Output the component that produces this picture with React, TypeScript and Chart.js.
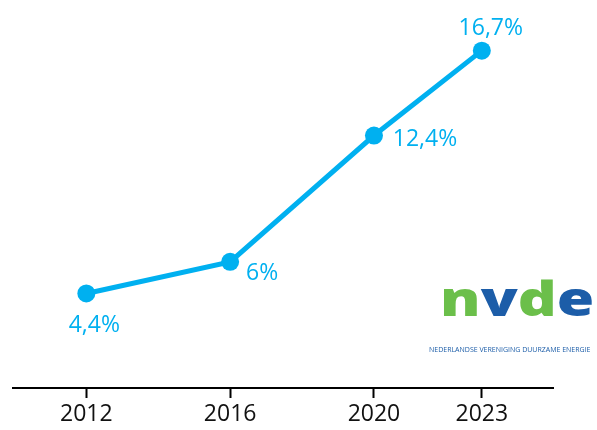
import React, { useEffect, useRef } from "react";
import { Chart, registerables } from "chart.js";

Chart.register(...registerables);

const years = [2012, 2016, 2020, 2023];
const shares = [4.4, 6, 12.4, 16.7];
const tickYears = [2012, 2016, 2020, 2023];

const BLUE = "#00B0F0";
const LABEL_FONT = "'Open Sans', 'Noto Sans', sans-serif";
// label offsets from each point (styling)
const labelOffsets = [
  [8, 32],
  [32, 12],
  [51, 4],
  [9, -22],
];

const fmt = (v: number) => v.toString().replace(".", ",") + "%";

const labelPlugin = {
  id: "pointLabels",
  afterDatasetsDraw(chart: any) {
    const ctx = chart.ctx;
    const meta = chart.getDatasetMeta(0);
    ctx.save();
    ctx.font = `23px ${LABEL_FONT}`;
    ctx.fillStyle = BLUE;
    ctx.textAlign = "center";
    ctx.textBaseline = "middle";
    meta.data.forEach((pt: any, i: number) => {
      const [dx, dy] = labelOffsets[i];
      ctx.fillText(fmt(shares[i]), pt.x + dx, pt.y + dy);
    });
    ctx.restore();
  },
};

export default function App() {
  const ref = useRef<HTMLCanvasElement>(null);
  useEffect(() => {
    if (!ref.current) return;
    const chart = new Chart(ref.current, {
      type: "line",
      data: {
        datasets: [
          {
            data: years.map((x, i) => ({ x, y: shares[i] })),
            borderColor: BLUE,
            backgroundColor: BLUE,
            borderWidth: 5,
            pointRadius: 9,
            pointBackgroundColor: BLUE,
            pointBorderWidth: 0,
            tension: 0,
          },
        ],
      },
      options: {
        animation: false,
        responsive: false,
        devicePixelRatio: 1,
        layout: { padding: { left: 13, right: 44, top: 0, bottom: 0 } },
        plugins: { legend: { display: false }, tooltip: { enabled: false } },
        scales: {
          x: {
            type: "linear",
            min: 2009.96,
            max: 2024.98,
            afterBuildTicks: (axis: any) => {
              axis.ticks = tickYears.map((v) => ({ value: v }));
            },
            ticks: {
              color: "#111",
              font: { family: LABEL_FONT, size: 23, lineHeight: 1 },
              padding: 4.5,
              maxRotation: 0,
              autoSkip: false,
              callback: (v: any) => String(v),
            },
            grid: {
              drawOnChartArea: false,
              drawTicks: true,
              tickLength: 10,
              tickWidth: 2,
              color: "#000",
            },
            border: { display: true, color: "#000", width: 2 },
          },
          y: {
            display: false,
            min: -0.39,
            max: 18.81,
          },
        },
      },
      plugins: [labelPlugin],
    });
    return () => chart.destroy();
  }, []);

  return (
    <div
      style={{
        position: "fixed",
        left: 0,
        top: 0,
        width: 597,
        height: 430,
        background: "#fff",
        overflow: "hidden",
      }}
    >
      <canvas ref={ref} width={597} height={430} style={{ display: "block" }} />
      <div
        style={{
          position: "absolute",
          left: 440,
          top: 275,
          fontFamily: "'Open Sans', sans-serif",
          fontWeight: 800,
          fontSize: 47,
          lineHeight: 1,
          transform: "scaleX(1.29)",
          transformOrigin: "left top",
          whiteSpace: "nowrap",
        }}
      >
        <span style={{ color: "#6BBF4A" }}>n</span>
        <span style={{ color: "#1C5DA8" }}>v</span>
        <span style={{ color: "#6BBF4A" }}>d</span>
        <span style={{ color: "#1C5DA8" }}>e</span>
      </div>
      <div
        style={{
          position: "absolute",
          left: 429,
          top: 346,
          fontFamily: "'Open Sans', sans-serif",
          fontSize: 7,
          lineHeight: 1,
          color: "#1C5DA8",
          whiteSpace: "nowrap",
        }}
      >
        NEDERLANDSE VERENIGING DUURZAME ENERGIE
      </div>
    </div>
  );
}
